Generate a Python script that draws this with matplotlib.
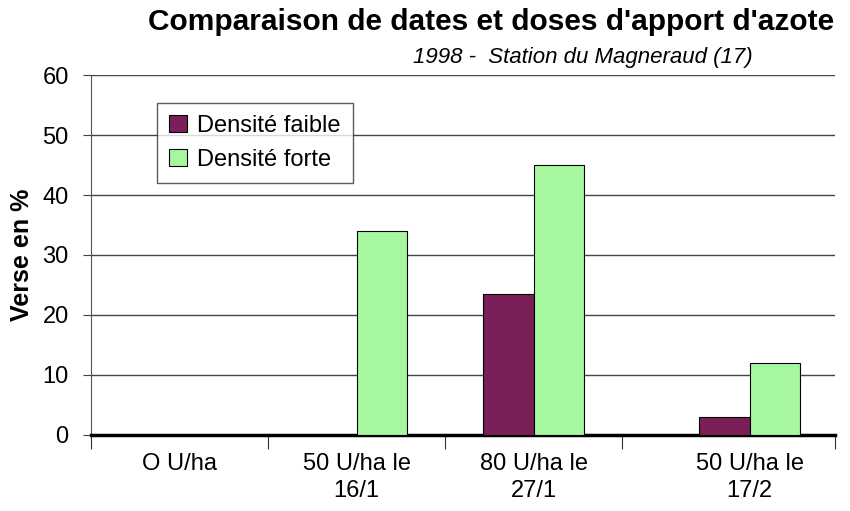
import matplotlib.pyplot as plt
import numpy as np

categories = ["O U/ha", "50 U/ha le\n16/1", "80 U/ha le\n27/1", "50 U/ha le\n17/2"]
faible = [0, 0, 23.5, 3]
forte = [0, 34, 45, 12]
series_labels = ["Densité faible", "Densité forte"]

plt.rcParams['font.family'] = ['Liberation Sans', 'DejaVu Sans']

fig = plt.figure(figsize=(8.5, 5.11), dpi=100)
ax = fig.add_axes([0.107, 0.149, 0.875, 0.704])

pos = np.arange(len(categories)).astype(float)
pos[-1] += 0.22  # last group sits a bit further right in the original
w = 0.285

ax.bar(pos - w / 2, faible, width=w, color='#7a1f57', edgecolor='black', linewidth=0.8,
       label=series_labels[0], zorder=3)
ax.bar(pos + w / 2, forte, width=w, color='#a6f7a0', edgecolor='black', linewidth=0.8,
       label=series_labels[1], zorder=3)

ax.set_xlim(-0.5, 3.7)
ax.set_ylim(0, 60)
ax.set_yticks(np.arange(0, 61, 10))
ax.yaxis.grid(True, color='#444444', linewidth=1.0, zorder=0)
ax.set_axisbelow(True)
ax.tick_params(axis='y', labelsize=17, length=6, color='#444444', pad=10)

# boundaries as major ticks, category names as minor ticks
ax.set_xticks([-0.5, 0.5, 1.5, 2.5, 3.7])
ax.set_xticklabels([])
ax.tick_params(axis='x', which='major', length=10, direction='out', color='#333333')
ax.set_xticks(pos, minor=True)
ax.set_xticklabels(categories, minor=True, fontsize=17, linespacing=1.3)
ax.tick_params(axis='x', which='minor', length=0, pad=13)

for s in ['top', 'right']:
    ax.spines[s].set_visible(False)
ax.spines['left'].set_color('#555555')
ax.spines['bottom'].set_linewidth(2.5)
ax.spines['bottom'].set_color('black')

ax.set_ylabel("Verse en %", fontsize=18, fontweight='bold', labelpad=6)

leg = ax.legend(loc='upper left', bbox_to_anchor=(0.089, 0.922), borderaxespad=0, fontsize=17,
                frameon=True, fancybox=False, edgecolor='#333333', handlelength=0.75,
                handleheight=0.75, handletextpad=0.45, borderpad=0.5, labelspacing=0.5)
leg.get_frame().set_linewidth(1.0)

fig.text(0.578, 0.957, "Comparaison de dates et doses d'apport d'azote", ha='center', va='center',
         fontsize=21.5, fontweight='bold')
fig.text(0.686, 0.888, "1998 -  Station du Magneraud (17)", ha='center', va='center',
         fontsize=16, style='italic')

plt.savefig("out.png", dpi=100)
plt.close()
